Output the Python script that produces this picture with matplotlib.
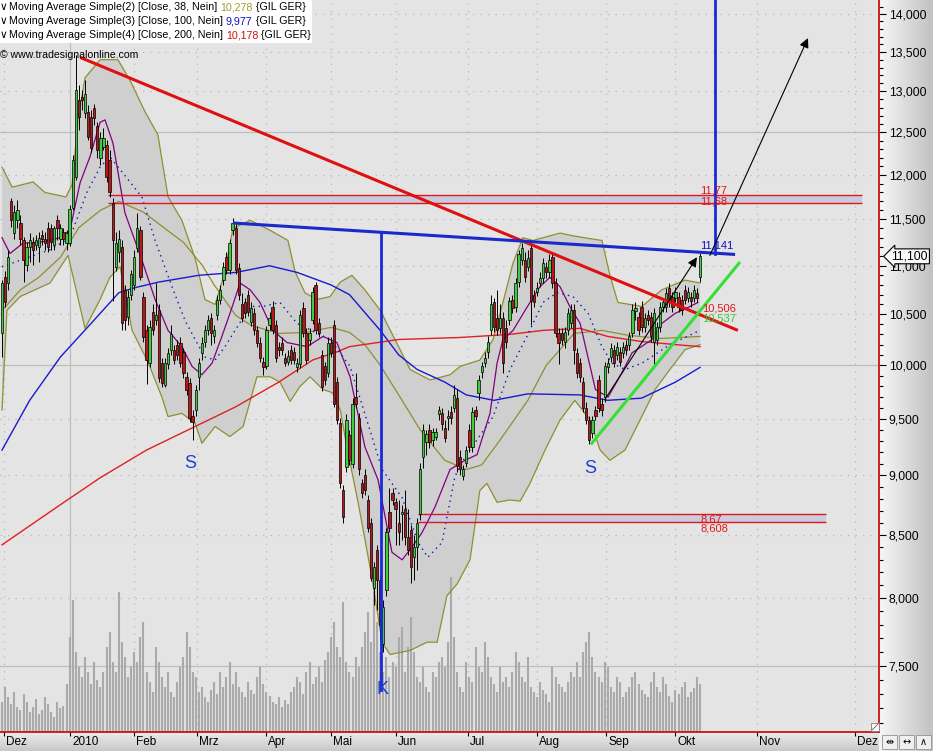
import numpy as np
import matplotlib
matplotlib.use("Agg")
import matplotlib.pyplot as plt
from matplotlib.colors import LinearSegmentedColormap
from matplotlib.patches import Rectangle
from matplotlib.ticker import FixedLocator, NullFormatter

#%% Daily candles, GIL GER, Dec 2009 - Oct 2010
opens = [10.31, 10.88, 10.82, 11.70, 11.35, 11.49, 11.46, 11.27, 11.01, 11.20,
         11.25, 11.22, 11.20, 11.33, 11.29, 11.41, 11.40, 11.22, 11.49, 11.29,
         11.36, 11.24, 11.24, 11.63, 11.98, 12.89, 12.93, 12.73, 12.75, 12.69,
         12.79, 12.57, 12.20, 12.33, 12.35, 12.17, 11.68, 10.99, 11.15, 11.20,
         10.75, 10.47, 10.70, 10.80, 11.19, 11.38, 10.68, 10.34, 10.02, 10.52,
         10.44, 10.54, 10.02, 9.81, 10.01, 10.15, 10.15, 10.20, 10.22, 10.13,
         9.89, 9.83, 9.53, 9.58, 9.89, 10.12, 10.23, 10.34, 10.46, 10.28,
         10.49, 10.65, 10.85, 11.09, 10.96, 11.38, 11.41, 10.98, 10.60, 10.62,
         10.70, 10.42, 10.51, 10.34, 10.22, 10.03, 9.99, 10.39, 10.57, 10.39,
         10.18, 10.22, 10.07, 10.03, 10.15, 10.13, 9.98, 10.01, 10.56, 10.31,
         10.25, 10.44, 10.80, 10.41, 10.10, 9.99, 9.93, 10.22, 10.39, 9.84,
         9.46, 8.87, 9.07, 9.35, 9.10, 9.70, 9.51, 8.93, 9.00, 8.79,
         8.60, 8.08, 8.38, 8.14, 7.66, 8.06, 8.69, 8.85, 8.77, 8.60,
         8.67, 8.71, 8.48, 8.54, 8.32, 8.40, 8.67, 9.16, 9.29, 9.40,
         9.31, 9.34, 9.54, 9.55, 9.42, 9.51, 9.56, 9.60, 9.69, 9.16,
         8.99, 9.11, 9.40, 9.25, 9.58, 9.74, 9.94, 10.02, 10.13, 10.34,
         10.62, 10.46, 10.36, 10.46, 10.36, 10.44, 10.65, 10.57, 10.83, 11.06,
         11.06, 10.99, 11.19, 10.70, 10.73, 10.82, 10.87, 10.99, 10.93, 11.09,
         10.82, 10.31, 10.31, 10.23, 10.34, 10.41, 10.54, 10.12, 10.02, 9.84,
         9.60, 9.49, 9.37, 9.58, 9.86, 9.64, 9.70, 9.98, 10.08, 10.15,
         10.10, 10.13, 10.12, 10.20, 10.20, 10.31, 10.53, 10.47, 10.57, 10.37,
         10.49, 10.47, 10.23, 10.25, 10.37, 10.57, 10.57, 10.77, 10.68, 10.67,
         10.68, 10.65, 10.75, 10.67, 10.68, 10.67, 10.72, 10.88]
closes = [10.82, 10.62, 11.09, 11.49, 11.58, 11.60, 11.29, 11.06, 11.20, 11.27,
          11.17, 11.27, 11.30, 11.29, 11.24, 11.20, 11.25, 11.40, 11.40, 11.40,
          11.29, 11.35, 11.62, 12.17, 13.02, 12.68, 12.89, 12.97, 12.45, 12.31,
          12.67, 12.29, 12.43, 12.43, 11.98, 11.80, 11.27, 11.24, 11.29, 10.41,
          10.44, 10.68, 10.91, 11.09, 11.40, 10.88, 10.27, 10.05, 10.37, 10.34,
          10.49, 9.88, 9.83, 10.02, 10.12, 10.30, 10.05, 10.10, 10.02, 9.93,
          9.77, 9.51, 9.47, 9.77, 10.02, 10.22, 10.34, 10.44, 10.31, 10.34,
          10.65, 10.75, 10.99, 10.96, 11.24, 11.46, 10.96, 10.70, 10.46, 10.51,
          10.52, 10.56, 10.34, 10.22, 10.07, 9.98, 10.34, 10.46, 10.34, 10.07,
          10.15, 10.15, 10.02, 10.09, 10.05, 10.05, 10.02, 10.49, 10.31, 10.05,
          10.31, 10.73, 10.34, 10.31, 9.79, 9.86, 10.22, 10.12, 9.64, 9.49,
          8.93, 8.65, 9.49, 9.13, 9.64, 9.64, 9.05, 8.85, 8.87, 8.56,
          8.16, 8.24, 8.14, 7.80, 7.93, 8.52, 8.56, 8.79, 8.71, 8.52,
          8.69, 8.48, 8.38, 8.24, 8.40, 8.60, 9.05, 9.40, 9.36, 9.29,
          9.38, 9.38, 9.58, 9.45, 9.33, 9.53, 9.51, 9.72, 9.08, 9.05,
          9.05, 9.22, 9.25, 9.56, 9.53, 9.86, 9.99, 10.07, 10.23, 10.60,
          10.37, 10.34, 10.46, 10.02, 10.23, 10.63, 10.56, 10.82, 11.12, 11.19,
          10.88, 11.08, 10.63, 10.62, 10.77, 10.87, 11.03, 10.93, 11.06, 10.82,
          10.31, 10.22, 10.25, 10.32, 10.51, 10.54, 10.15, 9.93, 9.89, 9.60,
          9.49, 9.31, 9.49, 9.53, 9.60, 9.58, 9.99, 10.02, 10.17, 10.02,
          10.18, 10.03, 10.18, 10.15, 10.28, 10.54, 10.56, 10.34, 10.37, 10.46,
          10.44, 10.28, 10.51, 10.37, 10.57, 10.62, 10.72, 10.63, 10.57, 10.73,
          10.57, 10.54, 10.65, 10.73, 10.63, 10.75, 10.67, 11.10]
highs = [10.85, 10.94, 11.17, 11.74, 11.66, 11.72, 11.55, 11.31, 11.25, 11.35,
         11.31, 11.33, 11.36, 11.38, 11.36, 11.47, 11.45, 11.43, 11.55, 11.45,
         11.40, 11.38, 11.66, 12.23, 13.46, 13.08, 13.02, 13.14, 12.83, 12.77,
         12.84, 12.63, 12.50, 12.55, 12.41, 12.29, 11.74, 11.36, 11.38, 11.27,
         10.80, 10.75, 10.96, 11.17, 11.57, 11.43, 10.73, 10.39, 10.44, 10.60,
         10.82, 10.60, 10.07, 10.07, 10.17, 10.39, 10.20, 10.25, 10.27, 10.17,
         9.94, 9.88, 9.58, 9.81, 10.07, 10.27, 10.39, 10.49, 10.51, 10.39,
         10.70, 10.80, 11.04, 11.15, 11.29, 11.51, 11.47, 11.03, 10.72, 10.67,
         10.75, 10.62, 10.56, 10.38, 10.27, 10.08, 10.38, 10.52, 10.63, 10.44,
         10.23, 10.27, 10.12, 10.15, 10.20, 10.18, 10.07, 10.54, 10.62, 10.36,
         10.36, 10.78, 10.83, 10.46, 10.15, 10.03, 10.27, 10.27, 10.44, 9.89,
         9.51, 8.92, 9.54, 9.40, 9.69, 9.93, 9.55, 8.97, 9.05, 8.83,
         8.64, 8.28, 8.42, 8.18, 7.99, 8.56, 8.89, 8.89, 8.81, 8.79,
         8.75, 8.87, 8.71, 8.58, 8.50, 8.64, 9.11, 9.45, 9.40, 9.45,
         9.42, 9.42, 9.62, 9.60, 9.49, 9.58, 9.62, 9.81, 9.78, 9.22,
         9.09, 9.26, 9.45, 9.61, 9.62, 9.91, 10.03, 10.13, 10.28, 10.70,
         10.67, 10.75, 10.60, 10.52, 10.44, 10.68, 10.70, 10.87, 11.17, 11.24,
         11.15, 11.17, 11.22, 10.75, 10.83, 10.93, 11.08, 11.04, 11.12, 11.15,
         10.87, 10.36, 10.36, 10.37, 10.56, 10.60, 10.60, 10.17, 10.07, 9.89,
         9.65, 9.53, 9.53, 9.62, 9.91, 9.69, 10.03, 10.07, 10.22, 10.20,
         10.23, 10.18, 10.23, 10.25, 10.32, 10.60, 10.62, 10.52, 10.63, 10.51,
         10.54, 10.52, 10.56, 10.42, 10.62, 10.67, 10.77, 10.82, 10.73, 10.78,
         10.73, 10.70, 10.80, 10.78, 10.73, 10.80, 10.77, 11.14]
lows = [10.08, 10.57, 10.75, 11.42, 11.29, 11.40, 11.22, 10.83, 10.94, 11.04,
        11.01, 11.17, 11.04, 11.22, 11.17, 11.15, 11.17, 11.17, 11.27, 11.22,
        11.22, 11.17, 11.21, 11.60, 11.94, 12.53, 12.77, 12.67, 12.41, 12.27,
        12.59, 12.20, 12.11, 12.29, 11.92, 11.75, 10.63, 10.94, 11.04, 10.34,
        10.34, 10.39, 10.65, 10.75, 11.15, 10.85, 10.23, 9.82, 9.98, 10.29,
        10.39, 9.84, 9.79, 9.79, 9.96, 10.10, 10.01, 10.05, 9.98, 9.88,
        9.72, 9.47, 9.31, 9.53, 9.77, 10.05, 10.18, 10.29, 10.20, 10.22,
        10.44, 10.60, 10.80, 10.91, 10.91, 11.33, 10.91, 10.65, 10.42, 10.46,
        10.48, 10.38, 10.29, 10.18, 10.03, 9.91, 9.96, 10.34, 10.30, 10.03,
        10.09, 10.10, 9.99, 10.00, 10.01, 10.01, 9.94, 9.97, 10.27, 10.01,
        10.20, 10.40, 10.30, 10.27, 9.76, 9.81, 9.89, 10.08, 9.61, 9.45,
        8.89, 8.60, 9.03, 9.09, 9.06, 9.60, 9.00, 8.81, 8.83, 8.52,
        8.13, 7.95, 7.91, 7.69, 7.60, 8.02, 8.52, 8.75, 8.42, 8.42,
        8.46, 8.42, 8.34, 8.12, 8.14, 8.22, 8.62, 9.06, 9.18, 9.24,
        9.26, 9.31, 9.49, 9.40, 9.29, 9.40, 9.45, 9.56, 9.03, 9.00,
        8.96, 9.07, 9.20, 9.20, 9.49, 9.67, 9.88, 9.98, 10.07, 10.29,
        10.32, 10.29, 10.31, 9.93, 10.17, 10.39, 10.51, 10.52, 10.78, 11.01,
        10.83, 10.94, 10.39, 10.57, 10.69, 10.78, 10.82, 10.87, 10.87, 10.77,
        10.27, 10.01, 10.20, 10.17, 10.29, 10.36, 10.01, 9.88, 9.84, 9.56,
        9.45, 9.27, 9.33, 9.49, 9.56, 9.53, 9.65, 9.93, 10.03, 9.98,
        10.05, 9.99, 10.07, 10.10, 10.15, 10.27, 10.44, 10.29, 10.32, 10.32,
        10.39, 10.23, 10.01, 10.20, 10.32, 10.52, 10.52, 10.57, 10.52, 10.62,
        10.52, 10.49, 10.60, 10.62, 10.57, 10.62, 10.62, 10.83]
# volume, relative units
volume = [30, 45, 35, 28, 40, 25, 22, 38, 30, 20, 25, 33, 18, 22, 35, 28, 20, 15, 30, 24, 26, 48,
          95, 132, 80, 65, 55, 75, 60, 48, 70, 52, 45, 60, 85, 100,
          70, 60, 140, 90, 75, 55, 65, 80, 70, 95, 110, 60, 50, 40, 85,
          70, 55, 45, 60, 40, 35, 50, 65, 75, 100, 85, 60, 55, 40, 45, 35, 30, 42, 50, 38, 60, 45, 55, 70, 48,
          60, 45, 40, 35, 50, 42, 38, 55, 65, 48, 40, 36, 30, 28, 35, 25, 32, 28, 40, 45,
          55, 50, 38, 60, 70, 48, 55, 65, 50, 72, 80, 95, 110, 85, 75,
          130, 70, 60, 55, 75, 65, 85, 100, 120, 90, 140, 110, 80, 60, 75, 55, 70, 65, 95, 105,
          60, 85, 115, 80, 55, 50, 65, 45, 40, 60, 55, 70, 75, 65, 90, 155,
          95, 60, 45, 40, 70, 55, 50, 85, 65, 60, 90, 75, 55, 48, 40, 65, 50, 55, 45, 60,
          80, 70, 55, 50, 75, 45, 40, 35, 50, 42, 38, 30, 65, 55, 48, 45, 40, 50, 60, 55,
          70, 55, 80, 90, 100, 75, 60, 55, 50, 70, 65, 45, 40, 55, 50, 35, 40, 45, 55, 60,
          48, 42, 38, 35, 50, 60, 45, 40, 55, 48, 36, 30, 42, 38, 45, 50, 35, 40, 44, 55, 48]

#%% Indicators (sampled from the chart: bar index, value)
ma38_idx = [0, 6, 12, 19, 25, 32, 38, 46, 53, 59, 65, 69, 76, 81, 90, 99, 107, 113, 118, 123,
            129, 136, 144, 151, 156, 162, 171, 177, 182, 186, 195, 204, 214, 227]
ma38_val = [10.54, 10.75, 10.88, 11.09, 11.41, 11.60, 11.70, 11.58, 11.40, 11.25, 11.01, 10.80,
            10.49, 10.39, 10.31, 10.32, 10.37, 10.32, 10.20, 10.00, 9.72, 9.40, 9.13, 9.05, 9.09,
            9.31, 9.67, 10.00, 10.17, 10.31, 10.34, 10.29, 10.26, 10.28]
ma100_idx = [0, 9, 19, 29, 38, 43, 51, 64, 76, 87, 96, 107, 113, 123, 129, 135, 144, 151, 160,
             171, 188, 197, 208, 219, 227]
ma100_val = [9.22, 9.67, 10.08, 10.41, 10.72, 10.77, 10.83, 10.90, 10.93, 11.00, 10.93, 10.80,
             10.70, 10.34, 10.10, 9.96, 9.84, 9.72, 9.67, 9.73, 9.72, 9.67, 9.69, 9.84, 9.98]
ma200_idx = [0, 19, 32, 47, 76, 90, 101, 109, 113, 129, 149, 165, 176, 188, 197, 208, 219, 227]
ma200_val = [8.42, 8.75, 8.98, 9.22, 9.61, 9.84, 10.05, 10.13, 10.18, 10.25, 10.27, 10.30, 10.34,
             10.36, 10.28, 10.23, 10.20, 10.18]
bb_up_idx = [0, 3.3, 10.1, 14, 20.8, 22.8, 24.7, 27, 31.9, 37.7, 41.6, 46.5, 50.7, 54, 58.5,
             62.8, 66, 69.3, 72.2, 75.1, 80.7, 87.2, 93, 95.3, 98.5, 102.4, 106.7, 110, 113.8,
             118, 123, 127.8, 132.7, 139.2, 145.7, 149, 155.4, 159.7, 162.9, 166.2, 169.4, 172.7,
             181.5, 185.7, 191.2, 195.1, 197.7, 200.3, 208.1, 214.6, 222.1, 227]
bb_up_val = [12.09, 11.86, 11.92, 11.80, 11.75, 11.89, 12.65, 13.17, 13.40, 13.40, 13.14, 12.75,
             12.47, 11.75, 11.49, 11.08, 10.65, 10.60, 10.90, 11.40, 11.49, 11.38, 11.27, 10.94,
             10.72, 10.65, 10.68, 10.83, 10.90, 10.75, 10.54, 10.25, 9.96, 9.86, 9.91, 9.99, 10.05,
             10.25, 10.62, 11.03, 11.30, 11.27, 11.35, 11.32, 11.29, 11.27, 10.90, 10.62, 10.58,
             10.75, 10.85, 10.82]
bb_lo_idx = [0, 1.6, 5.9, 15.6, 21.5, 24.1, 27, 31.9, 35.1, 38.4, 42.3, 47.5, 52, 54, 58.5, 62.8,
             65, 69.3, 74.1, 78.4, 82.9, 87.2, 90.4, 93.7, 96.9, 100.2, 104.4, 107.6, 110, 112.2,
             115.8, 120.3, 123.6, 126.2, 132.7, 138.2, 141.5, 144.7, 148, 152.2, 155.4, 157.7,
             161, 165.2, 168.5, 171.7, 176.6, 181.5, 186.3, 191.2, 194.5, 197.7, 202.6, 207.5,
             212.4, 217.2, 222.1, 227]
bb_lo_val = [9.58, 10.54, 10.68, 10.82, 11.11, 10.75, 10.36, 10.65, 10.88, 10.99, 10.34, 10.03,
             9.70, 9.52, 9.55, 9.46, 9.28, 9.43, 9.34, 9.43, 9.89, 9.89, 9.84, 9.66, 9.80, 9.89,
             9.77, 9.74, 9.58, 9.24, 8.77, 8.16, 7.67, 7.58, 7.61, 7.67, 7.67, 8.02, 8.11, 8.30,
             8.87, 8.93, 8.77, 8.79, 8.78, 8.93, 9.22, 9.49, 9.67, 9.49, 9.22, 9.13, 9.22, 9.49,
             9.77, 9.96, 10.15, 10.20]
fast_idx = [0, 2.6, 6.8, 12.4, 18.9, 22.1, 25.4, 28.6, 31.9, 33.5, 36.1, 40, 45.5, 49.8, 54,
            58.5, 61.8, 65, 68.3, 71.5, 74.8, 77.4, 80.7, 83.9, 88.1, 92.7, 99.2, 104.4, 108.9,
            113.2, 118, 122.3, 126.8, 130.1, 133.3, 136.6, 140.8, 145.7, 150.6, 154.5, 158.7,
            161, 162.9, 166.2, 170.7, 174.9, 178.2, 181.5, 184.8, 188, 193, 197.1, 201.6, 204.9,
            211.4, 214.6, 218.9, 223.1, 226.3]
fast_val = [11.30, 11.13, 11.24, 11.25, 11.30, 11.38, 11.91, 12.21, 12.62, 12.65, 12.37, 11.57,
            11.06, 10.65, 10.34, 10.18, 9.99, 9.91, 10.02, 10.28, 10.57, 10.82, 10.75, 10.62,
            10.34, 10.22, 10.18, 10.28, 10.22, 9.89, 9.25, 8.96, 8.36, 8.30, 8.40, 8.52, 8.73,
            9.05, 9.13, 9.18, 9.55, 10.02, 10.25, 10.34, 10.57, 10.78, 10.88, 10.78, 10.57,
            10.41, 9.77, 9.70, 9.93, 10.12, 10.25, 10.41, 10.51, 10.57, 10.62]
dot_idx = [0, 15.6, 22.1, 27.6, 31.9, 35.1, 45.5, 49.8, 55.3, 59.5, 62.8, 66, 69.3, 72.5, 75.8,
           80.7, 84.9, 90.4, 95.9, 106.7, 113.2, 114.8, 120.3, 123.6, 130.1, 135.3, 138.5, 143.1,
           147.3, 150.6, 159.7, 165.2, 170.7, 175.9, 180.5, 185.7, 190.6, 195.1, 198.4, 202.6,
           208.1, 217.2, 227]
dot_val = [10.99, 11.17, 11.30, 11.80, 12.09, 12.21, 11.75, 11.27, 10.78, 10.44, 10.25, 10.08,
           10.05, 10.18, 10.34, 10.58, 10.58, 10.62, 10.41, 10.25, 9.99, 9.84, 9.34, 9.05, 8.81,
           8.44, 8.32, 8.44, 8.99, 9.16, 9.52, 9.96, 10.28, 10.62, 10.72, 10.68, 10.51, 10.18,
           10.02, 9.96, 10.02, 10.20, 10.34]

#%% Drawings (bar index, price)
red_trend = ([25.4, 239.3], [13.43, 10.34])
neckline = ([75.1, 238.4], [11.46, 11.12])
green_trend = ([191.5, 240.0], [9.27, 11.04])
k_line = ([123.3, 123.3], [11.36, 7.33])
target_line = ([231.9, 231.9], [11.13, 14.6])
arrow_short = ((196.1, 9.68), (226.0, 11.09))
arrow_long = ((230.2, 11.11), (262.1, 13.68))
zones = [(34.5, 279.7, 11.68, 11.77), (135.3, 268.0, 8.608, 8.67)]

month_pos = [0.6, 22.1, 42.9, 63.4, 85.9, 107.0, 128.1, 151.5, 174.0, 196.4, 218.9, 245.5, 277.4]
month_lbl = ['Dez', '2010', 'Feb', 'Mrz', 'Apr', 'Mai', 'Jun', 'Jul', 'Aug', 'Sep', 'Okt', 'Nov', 'Dez']
price_ticks = [7.5, 8.0, 8.5, 9.0, 9.5, 10.0, 10.5, 11.0, 11.5, 12.0, 12.5, 13.0, 13.5, 14.0]

#%% Figure
W, H = 933, 751
fig = plt.figure(figsize=(W / 100, H / 100), dpi=100)
fig.patch.set_facecolor('#dadada')
FONT = ['Liberation Sans', 'DejaVu Sans']

bg = fig.add_axes([0, 0, 1, 1], zorder=-10)
bg.set_xlim(0, W)
bg.set_ylim(H, 0)
bg.axis('off')
cm_r = LinearSegmentedColormap.from_list('r', ['#f6f6f6', '#c2c2c2'])
bg.imshow(np.linspace(0, 1, 64)[None, :], extent=(879, W, H, 0), cmap=cm_r, aspect='auto')
cm_b = LinearSegmentedColormap.from_list('b', ['#ececec', '#c8c8c8'])
bg.imshow(np.linspace(0, 1, 32)[:, None], extent=(0, 879, H, 732), cmap=cm_b, aspect='auto')

ax = fig.add_axes([0, (H - 732) / H, 879 / W, 732 / H])
ax.set_facecolor('#e4e4e4')
ax.set_yscale('log')

n = len(closes)
x = np.arange(n)
o = np.array(opens)
c = np.array(closes)

# grid
for v in price_ticks:
    if v in (7.5, 10.0, 12.5):
        ax.axhline(v, color='#bdbdbd', lw=0.9, zorder=0.5)
    else:
        ax.axhline(v, color='#b8b8b8', lw=0.9, ls=(0, (1, 5)), zorder=0.5)
for p, lb in zip(month_pos, month_lbl):
    if lb == '2010':
        ax.axvline(p, color='#bdbdbd', lw=0.9, zorder=0.5)
    else:
        ax.axvline(p, color='#b8b8b8', lw=0.9, ls=(0, (1, 5)), zorder=0.5)

# bollinger band
band_x = np.concatenate([bb_up_idx, bb_lo_idx[::-1]])
band_y = np.concatenate([bb_up_val, bb_lo_val[::-1]])
ax.fill(band_x, band_y, color='#cfcfcf', lw=0, zorder=1)
ax.plot(bb_up_idx, bb_up_val, color='#8f8f30', lw=0.9, zorder=2)
ax.plot(bb_lo_idx, bb_lo_val, color='#8f8f30', lw=0.9, zorder=2)

# support / resistance zones
for x0, x1, lo, hi in zones:
    ax.fill_between([x0, x1], lo, hi, color='#c9cbe0', lw=0, zorder=1.2)
    ax.hlines([lo, hi], x0, x1, color='#e01818', lw=1.0, zorder=2.2)

# volume
ax.vlines(x, 0, np.array(volume) / 732, transform=ax.get_xaxis_transform(),
          color='#aaaaaa', lw=1.5, zorder=1.5)

# moving averages
ax.plot(ma38_idx, ma38_val, color='#8f8f30', lw=0.9, zorder=2)
ax.plot(ma100_idx, ma100_val, color='#1a1acc', lw=1.0, zorder=2)
ax.plot(ma200_idx, ma200_val, color='#e02020', lw=1.0, zorder=2)
ax.plot(fast_idx, fast_val, color='#800080', lw=0.9, zorder=2)
ax.plot(dot_idx, dot_val, color='#1010c0', lw=1.0, ls=(0, (1, 3)), zorder=2)

# candles
up = c >= o
ax.vlines(x, lows, highs, color='black', lw=0.7, zorder=3.5)
body_lo = np.minimum(o, c)
body_h = np.maximum(np.abs(c - o), 0.012)
ax.bar(x, body_h, bottom=body_lo, width=0.75,
       color=np.where(up, '#40cc40', '#b41818'), edgecolor='black', linewidth=0.5, zorder=4)

# trend lines and targets
ax.plot(*red_trend, color='#e01010', lw=2.2, zorder=5, solid_capstyle='butt')
ax.plot(*neckline, color='#1a2ac8', lw=2.2, zorder=5, solid_capstyle='butt')
ax.plot(*green_trend, color='#33e033', lw=2.2, zorder=5, solid_capstyle='butt')
ax.plot(*k_line, color='#1a2ad8', lw=2.0, zorder=5)
ax.plot(*target_line, color='#1a2ad8', lw=2.0, zorder=5)
for (x0, y0), (x1, y1) in (arrow_short, arrow_long):
    ax.annotate('', xy=(x1, y1), xytext=(x0, y0),
                arrowprops=dict(arrowstyle='-|>', color='black', lw=0.8,
                                mutation_scale=14, shrinkA=0, shrinkB=0), zorder=6)

# value labels
lab = dict(fontsize=8, family=FONT, va='center', ha='left', zorder=7)
ax.text(227, 11.82, '11,77', color='#e01818', **lab)
ax.text(227, 11.70, '11,68', color='#e01818', **lab)
ax.text(227, 11.22, '11,141', color='#1010c0', **lab)
ax.text(227.6, 10.56, '10,506', color='#e01818', **lab)
ax.text(227.6, 10.46, '10,537', color='#33cc33', **lab)
ax.text(227, 8.63, '8,67', color='#e01818', **lab)
ax.text(227, 8.55, '8,608', color='#e01818', **lab)
pat = dict(fontsize=13, family=FONT, color='#2040d0', ha='center', va='center', zorder=7)
ax.text(61.1, 9.10, 'S', **pat)
ax.text(191.2, 9.06, 'S', **pat)
ax.text(123.6, 7.33, 'K', **pat)

# axes, ticks
ax.set_xlim(-0.65, 285.2)
ax.set_ylim(7.038, 14.189)
for s in ('left', 'top'):
    ax.spines[s].set_visible(False)
for s in ('right', 'bottom'):
    ax.spines[s].set_color('#cc1010')
    ax.spines[s].set_linewidth(1.3)
ax.yaxis.tick_right()
ax.yaxis.set_major_locator(FixedLocator(price_ticks))
ax.set_yticklabels([f'{v:.3f}'.replace('.', ',') for v in price_ticks])
minor = [round(7.1 + 0.1 * k, 1) for k in range(71)]
minor = [m for m in minor if all(abs(m - t) > 1e-6 for t in price_ticks)]
ax.yaxis.set_minor_locator(FixedLocator(minor))
ax.yaxis.set_minor_formatter(NullFormatter())
ax.tick_params(axis='y', which='major', direction='out', length=5, width=0.8,
               labelsize=8.7, pad=2, colors='black')
ax.tick_params(axis='y', which='minor', direction='out', length=3, width=0.8, colors='black')
for t in ax.get_yticklabels():
    t.set_family(FONT)
ax.set_xticks(month_pos)
ax.set_xticklabels([])
ax.tick_params(axis='x', direction='out', length=3, width=0.8, colors='black')
for p, lb in zip(month_pos, month_lbl):
    ax.annotate(lb, xy=(p, 0), xycoords=('data', 'axes fraction'), xytext=(1.5, -3),
                textcoords='offset points', ha='left', va='top', fontsize=8.5,
                family=['Liberation Sans Narrow', 'Liberation Sans'], annotation_clip=False)

# last price marker
ax.annotate(f'{closes[-1]:.3f}'.replace('.', ','), xy=(1, closes[-1]),
            xycoords=('axes fraction', 'data'), xytext=(9, 0), textcoords='offset points',
            ha='left', va='center', fontsize=8.7, family=FONT, annotation_clip=False,
            bbox=dict(boxstyle='larrow,pad=0.12', fc='#f8f8f8', ec='black', lw=0.8), zorder=20)

#%% Overlay: legend header, icons
ov = fig.add_axes([0, 0, 1, 1], zorder=10)
ov.set_xlim(0, W)
ov.set_ylim(H, 0)
ov.axis('off')
ov.add_patch(Rectangle((0, 0), 312, 43, facecolor='white', edgecolor='none'))
legend_rows = [('Moving Average Simple(2) [Close, 38, Nein] ', '10,278', '#a0a030'),
               ('Moving Average Simple(3) [Close, 100, Nein] ', '9,977', '#1010c8'),
               ('Moving Average Simple(4) [Close, 200, Nein] ', '10,178', '#d01010')]
for k, (txt, val, col) in enumerate(legend_rows):
    y = 7 + 14 * k
    ov.text(0, y, '\u2228', fontsize=7.6, family=FONT, va='center', ha='left')
    t1 = ov.text(9, y, txt, fontsize=7.7, family=FONT, va='center', ha='left')
    t2 = ov.annotate(val, xy=(1, 0), xycoords=t1, va='bottom', ha='left',
                     fontsize=7.7, family=FONT, color=col)
    ov.annotate(' {GIL GER}', xy=(1, 0), xycoords=t2, va='bottom', ha='left',
                fontsize=7.7, family=FONT)
ov.text(0, 55, '\u00a9 www.tradesignalonline.com', fontsize=7.6, family=FONT,
        va='center', ha='left')
for k, g in enumerate(['\u21f9', '\u2194', '\u2227']):
    ov.add_patch(Rectangle((882 + 17 * k, 735), 15, 14, facecolor='#f0f0f0',
                           edgecolor='#909090', lw=0.6))
    ov.text(889.5 + 17 * k, 742, g, fontsize=7, family=['DejaVu Sans'], ha='center', va='center')
ov.add_patch(Rectangle((871, 723), 8, 8, facecolor='white', edgecolor='#808080', lw=0.6))
ov.plot([872, 878], [730, 724], color='#606060', lw=0.6)

fig.savefig('out.png', dpi=100)
